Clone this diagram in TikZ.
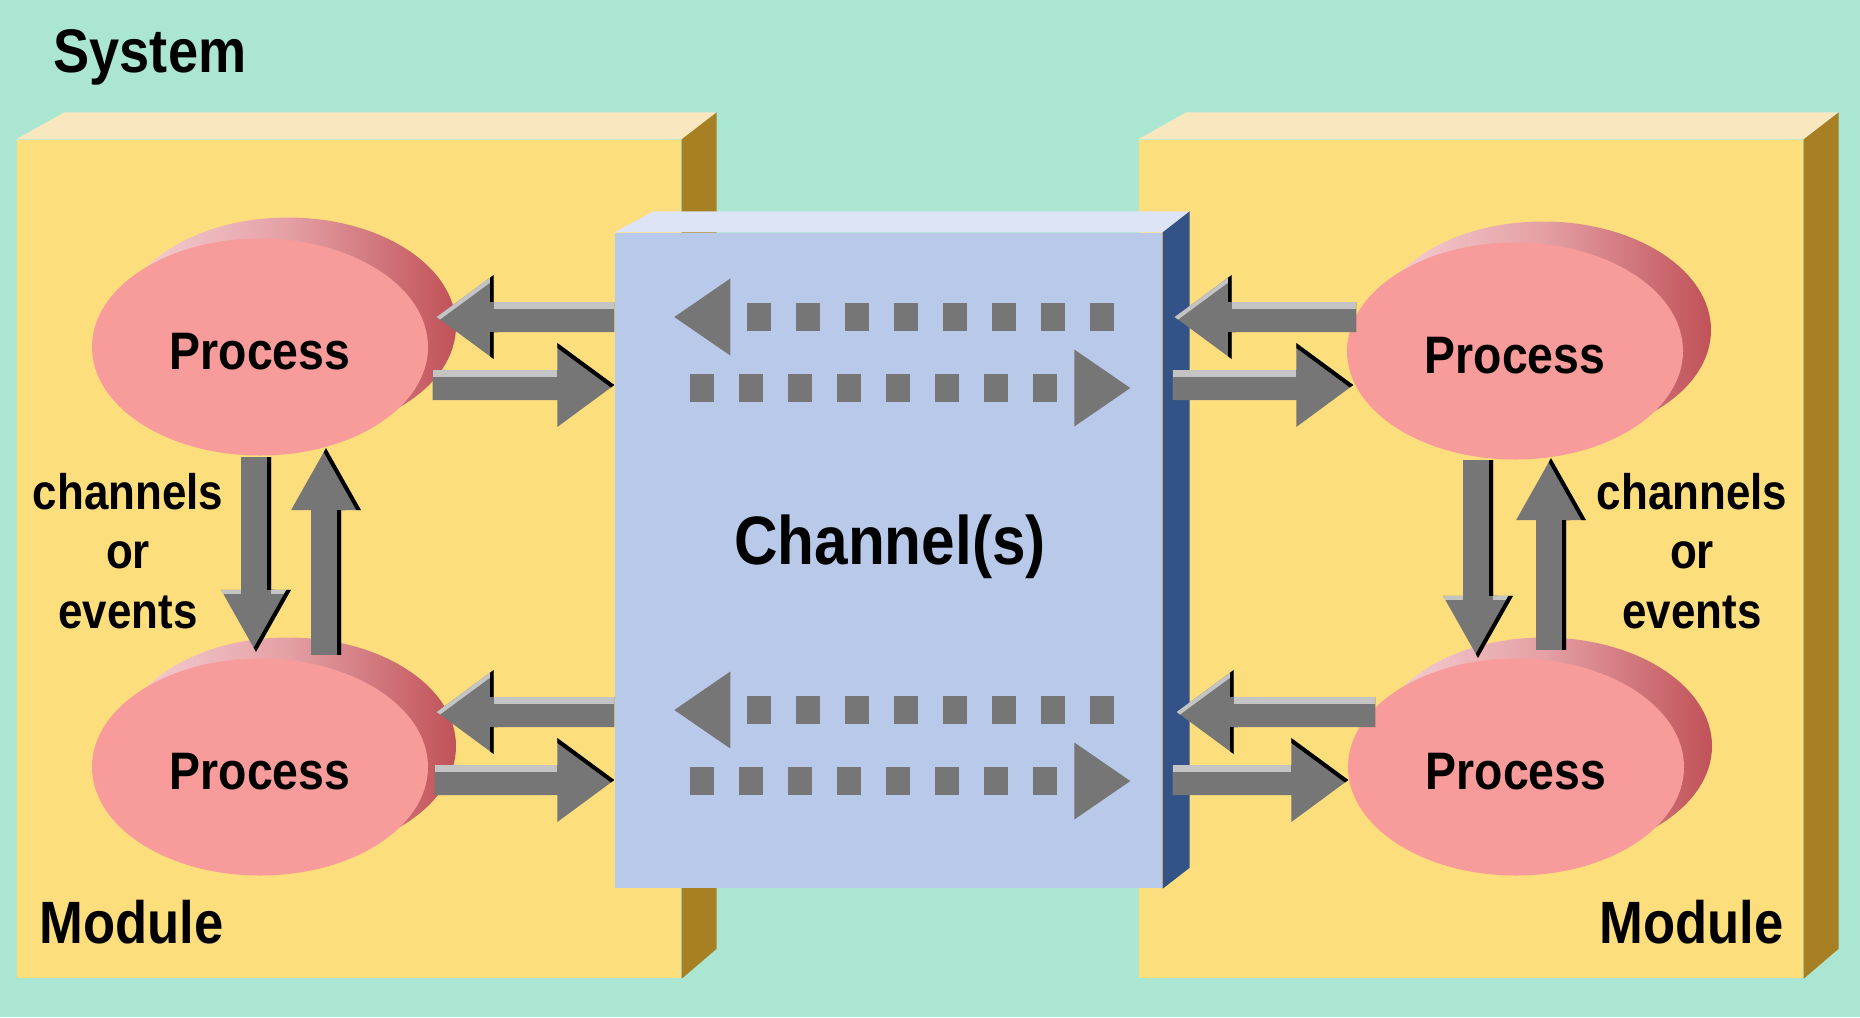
\documentclass[tikz,border=0pt]{standalone}
\usepackage{fontspec}
\newfontfamily\diagfont[FakeStretch=0.88]{Liberation Sans}
\usepackage{xcolor}
\usepackage{tikz}
\usetikzlibrary{shapes.geometric,arrows.meta,calc}

\definecolor{sysbg}{RGB}{171,230,210}
\definecolor{modfront}{RGB}{253,222,125}
\definecolor{modtopc}{RGB}{249,231,192}
\definecolor{modsidec}{RGB}{168,128,36}
\definecolor{chanfront}{RGB}{185,201,234}
\definecolor{chantopc}{RGB}{220,228,245}
\definecolor{chansidec}{RGB}{50,82,136}
\definecolor{procpink}{RGB}{248,155,155}
\definecolor{proclite}{RGB}{246,210,214}
\definecolor{procmid}{RGB}{228,160,165}
\definecolor{procdark}{RGB}{192,82,88}
\definecolor{flowgray}{RGB}{118,118,118}
\definecolor{flowlite}{RGB}{196,196,196}

\tikzset{
  lite/.style={draw=flowlite, line width=1.4mm},
  litethin/.style={draw=flowlite, line width=0.8mm},
  dark/.style={draw=black, line width=0.8mm}
}

% block arrow: #1 name, #2 start, #3 tip, #4 edges drawn inside the arrow
\newcommand{\shafthw}{1.5mm}
\newcommand{\headhw}{4.2mm}
\newcommand{\headlen}{5.7mm}
\newcommand{\flowarrow}[4]{%
  \path #2 coordinate (#1-s) #3 coordinate (#1-t);
  \path ($(#1-t)!\headlen!(#1-s)$) coordinate (#1-b)
    ($(#1-s)!\shafthw!90:(#1-t)$) coordinate (#1-sl)
    ($(#1-s)!\shafthw!-90:(#1-t)$) coordinate (#1-sr)
    ($(#1-b)!\shafthw!90:(#1-t)$) coordinate (#1-bl)
    ($(#1-b)!\shafthw!-90:(#1-t)$) coordinate (#1-br)
    ($(#1-b)!\headhw!90:(#1-t)$) coordinate (#1-hl)
    ($(#1-b)!\headhw!-90:(#1-t)$) coordinate (#1-hr);
  \fill[flowgray] (#1-sl) -- (#1-bl) -- (#1-hl) -- (#1-t) -- (#1-hr) -- (#1-br) -- (#1-sr) -- cycle;
  \begin{scope}
    \clip (#1-sl) -- (#1-bl) -- (#1-hl) -- (#1-t) -- (#1-hr) -- (#1-br) -- (#1-sr) -- cycle;
    #4
  \end{scope}}

\begin{document}
\begin{tikzpicture}[x=0.1mm, y=-0.1mm,
  modbox/.style={fill=modfront, minimum width=66.4mm, minimum height=83.8mm, inner sep=0pt},
  chanbox/.style={fill=chanfront, minimum width=54.7mm, minimum height=65.5mm, inner sep=0pt},
  process/.style={ellipse, fill=procpink, minimum width=33.6mm, minimum height=21.7mm, inner sep=0pt,
    text height=13pt, text depth=0pt, font=\diagfont\bfseries\fontsize{15pt}{18pt}\selectfont},
  txt/.style={inner sep=0pt, font=\diagfont\bfseries\fontsize{17pt}{20pt}\selectfont},
  evtxt/.style={inner sep=0pt, align=center, font=\diagfont\bfseries\fontsize{14.2pt}{16.9pt}\selectfont},
  dotflow/.style={draw=flowgray, line width=2.8mm, dash pattern=on 2.4mm off 2.5mm,
    -{Triangle[length=5.6mm, width=7.7mm, line width=0pt]}}]
% canvas 1860 x 1017, one unit = one pixel of the original
\useasboundingbox (0,0) rectangle (1860,1017);
\fill[sysbg] (0,0) rectangle (1860,1017);
\node[txt, font=\diagfont\bfseries\fontsize{17.5pt}{20pt}\selectfont, anchor=base west] (sys) at (53,72) {System};

% modules: front face, then top and side
\node[modbox] (modL) at (349,559) {};
\node[modbox] (modR) at (1471,559) {};
\foreach \m in {modL,modR} {
  \fill[modtopc] (\m.north west) -- ++(48,-27) -- ([shift={(35,-27)}]\m.north east) -- (\m.north east) -- cycle;
  \fill[modsidec] (\m.north east) -- ++(35,-27) -- ([shift={(35,-30)}]\m.south east) -- (\m.south east) -- cycle;
}
\node[txt, anchor=base west] (modLlbl) at (39,943) {Module};
\node[txt, anchor=base east] (modRlbl) at (1784,943) {Module};

% channel box sits over both modules
\node[chanbox] (chan) at (888.5,560.5) {};
\fill[chantopc] (chan.north west) -- ++(39,-21) -- ([shift={(27,-21)}]chan.north east) -- (chan.north east) -- cycle;
\fill[chansidec] (chan.north east) -- ++(27,-21) -- ([shift={(27,-21)}]chan.south east) -- (chan.south east) -- cycle;
\node[txt, font=\diagfont\bfseries\fontsize{19.5pt}{22pt}\selectfont, anchor=base] (chanlbl) at (890,564) {Channel(s)};

% processes: shaded back ellipse, then the face
\foreach \c/\x/\y in {cL1/260/347, cL2/260/767, cR1/1515/351, cR2/1516/767} {
  \coordinate (\c) at (\x,\y);
  \shade[left color=proclite, right color=procdark, middle color=procmid]
    ([shift={(28,-21)}]\c) ellipse [x radius=16.8mm, y radius=10.85mm];
}
\node[process] (pL1) at (cL1) {Process};
\node[process] (pL2) at (cL2) {Process};
\node[process] (pR1) at (cR1) {Process};
\node[process] (pR2) at (cR2) {Process};

\node[evtxt] (evL) at (128,551) {channels\\or\\events};
\node[evtxt] (evR) at (1692,551) {channels\\or\\events};

% rows of the horizontal arrows
\coordinate (rowA) at (0,317);
\coordinate (rowB) at (0,385);
\coordinate (rowC) at (0,712);
\coordinate (rowD) at (0,780);

% arrows pointing left
\foreach \n/\a/\b in {aL1/{(chan.west |- rowA)}/{($(pL1.east |- rowA)+(8,0)$)},
    aL3/{(chan.west |- rowC)}/{($(pL2.east |- rowC)+(8,0)$)},
    aR1/{($(pR1.west |- rowA)+(10,0)$)}/{($(chan.east |- rowA)+(12,0)$)},
    aR3/{($(pR2.west |- rowC)+(28,0)$)}/{($(chan.east |- rowC)+(14,0)$)}} {
  \flowarrow{\n}{\a}{\b}{%
    \draw[lite] (\n-sr) -- (\n-br);
    \draw[litethin] (\n-hr) -- (\n-t);
    \draw[dark] (\n-hr) -- (\n-br) (\n-bl) -- (\n-hl);}
}

% arrows pointing right
\foreach \n/\a/\b in {aL2/{($(pL1.east |- rowB)+(4,0)$)}/{(chan.west |- rowB)},
    aL4/{($(pL2.east |- rowD)+(6,0)$)}/{(chan.west |- rowD)},
    aR2/{($(chan.east |- rowB)+(10,0)$)}/{($(pR1.west |- rowB)+(7,0)$)},
    aR4/{($(chan.east |- rowD)+(10,0)$)}/{($(pR2.west |- rowD)+(1,0)$)}} {
  \flowarrow{\n}{\a}{\b}{%
    \draw[lite] (\n-sl) -- (\n-bl);
    \draw[dark] (\n-hl) -- (\n-t);}
}

% channels or events between the two processes of a module
\begin{scope}
  \renewcommand{\headhw}{3.5mm}
  \renewcommand{\headlen}{6.2mm}
  \foreach \n/\a/\b in {dL/{($(pL1.south)+(-4,1)$)}/{($(pL2.north)+(-4,-6)$)},
      dR/{($(pR1.south)+(-37,0)$)}/{($(pR2.north)+(-38,0)$)}} {
    \flowarrow{\n}{\a}{\b}{%
      \draw[litethin] (\n-bl) -- (\n-hl) (\n-br) -- (\n-hr);
      \draw[dark] (\n-sl) -- (\n-bl) (\n-hl) -- (\n-t);}
  }
  \foreach \n/\a/\b in {uL/{($(pL2.north)+(66,-3)$)}/{($(pL1.south)+(66,-8)$)},
      uR/{($(pR2.north)+(35,-8)$)}/{($(pR1.south)+(36,-2)$)}} {
    \flowarrow{\n}{\a}{\b}{%
      \draw[dark] (\n-sr) -- (\n-br) (\n-hr) -- (\n-t);}
  }
\end{scope}

% dotted flows through the channel
\draw[dotflow] ($(chan.west |- rowA)+(500,0)$) -- ($(chan.west |- rowA)+(60,0)$);
\draw[dotflow] ($(chan.west |- rowB)+(76,3)$) -- ($(chan.west |- rowB)+(516,3)$);
\draw[dotflow] ($(chan.west |- rowC)+(500,-2)$) -- ($(chan.west |- rowC)+(60,-2)$);
\draw[dotflow] ($(chan.west |- rowD)+(76,1)$) -- ($(chan.west |- rowD)+(516,1)$);
\end{tikzpicture}
\end{document}
